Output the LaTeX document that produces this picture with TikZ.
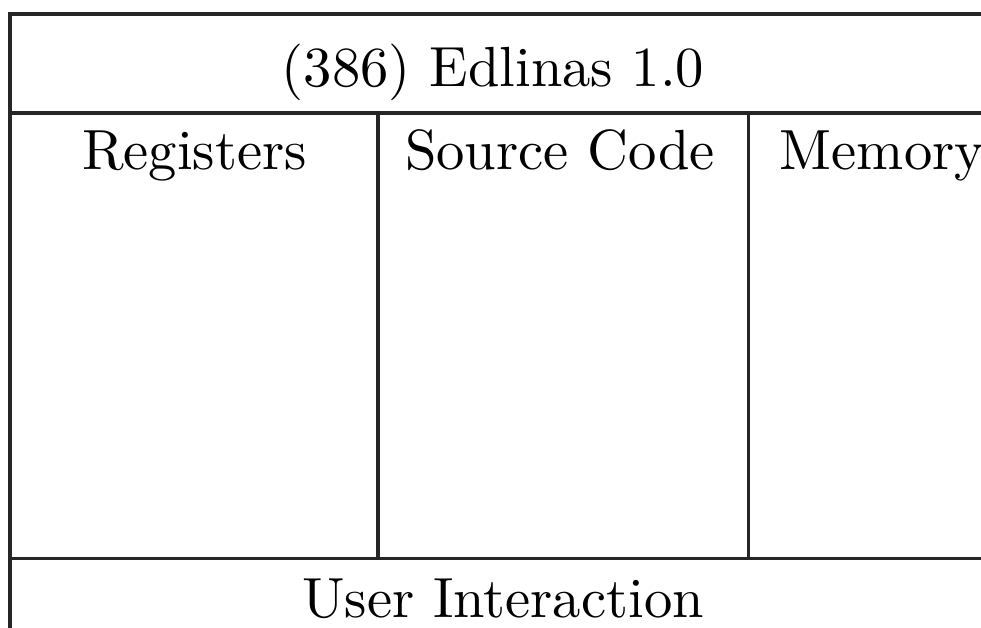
\documentclass[tikz,border=0pt]{standalone}
\usepackage{fontspec}
\setmainfont{lmroman10-regular.otf}
\begin{document}
\begin{tikzpicture}[x=0.25pt,y=-0.25pt,
  frame/.style={line width=0.9pt,black!85},
  label/.style={inner sep=0pt,anchor=base,font=\fontsize{14.15}{16}\selectfont}]
\useasboundingbox (0,0) rectangle (981,628);
\clip (0,0) rectangle (981,628);
% frame lines
\draw[frame] (981,14) -- (10,14) -- (10,628);
\draw[frame] (10,113) -- (981,113);
\draw[frame] (10,558.5) -- (981,558.5);
\draw[frame] (378,113) -- (378,558.5);
\draw[frame] (748.5,113) -- (748.5,558.5);
% texts
\node[label] (title) at (493,87) {(386) Edlinas 1.0};
\node[label] (reg) at (194.5,170) {Registers};
\node[label] (src) at (560,170) {Source Code};
\node[label,anchor=base west] (mem) at (779,170) {Memory};
\node[label] (user) at (503,617) {User Interaction};
\end{tikzpicture}
\end{document}
